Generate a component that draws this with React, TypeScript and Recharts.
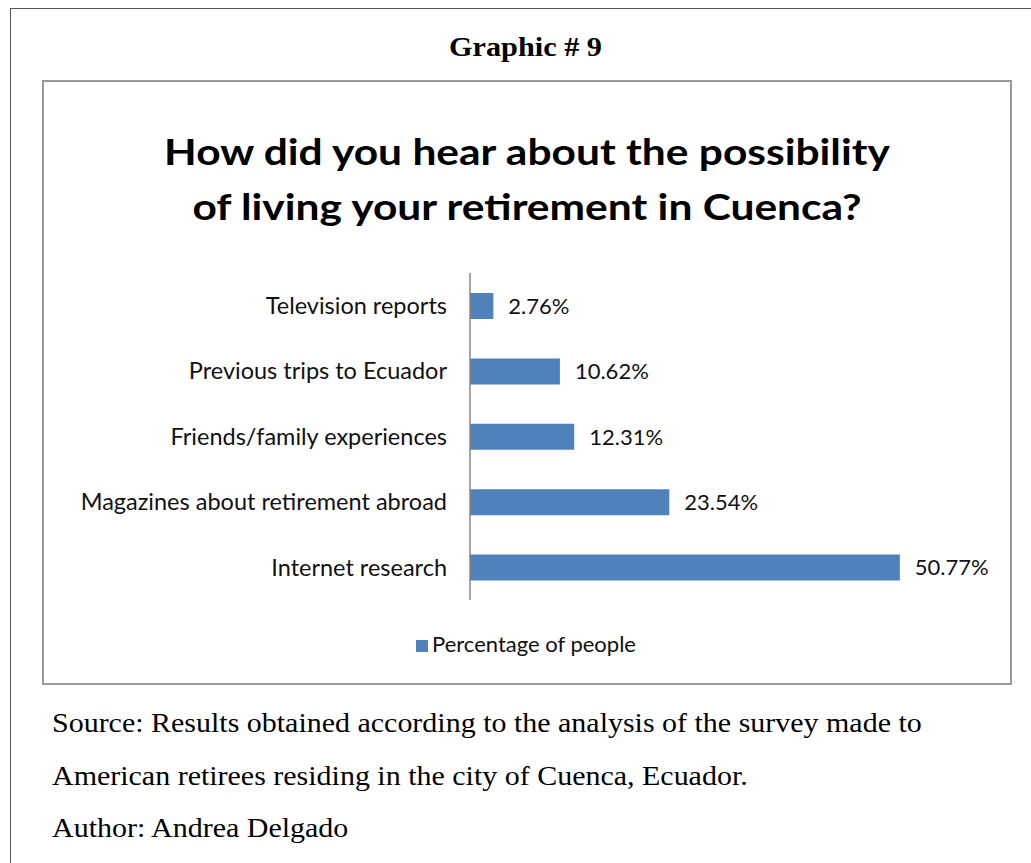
import React from "react";
import { BarChart, Bar, XAxis, YAxis, Legend, LabelList } from "recharts";

const categories = [
  "Television reports",
  "Previous trips to Ecuador",
  "Friends/family experiences",
  "Magazines about retirement abroad",
  "Internet research",
];
const percentages = [2.76, 10.62, 12.31, 23.54, 50.77];

const data = categories.map((name, i) => ({ name, value: percentages[i] }));

const calibri = "Lato, 'Open Sans', sans-serif";
const serif = "'Liberation Serif', 'Times New Roman', serif";

export default function App() {
  return (
    <div style={{ position: "absolute", left: 0, top: 0, width: 1031, height: 863, background: "#fff", overflow: "hidden" }}>
      {/* page frame */}
      <div style={{ position: "absolute", left: 10, top: 8, width: 1040, height: 900, borderLeft: "1px solid #555", borderTop: "1px solid #555" }} />
      <div style={{ position: "absolute", left: 0, width: 1051, top: 31, lineHeight: "32px", textAlign: "center", fontFamily: serif, fontWeight: "bold", fontSize: 28, color: "#000", transform: "scaleX(1.08)" }}>
        Graphic # 9
      </div>

      {/* chart box */}
      <div style={{ position: "absolute", left: 42, top: 80, width: 966, height: 601, border: "2px solid #9a9a9a" }}>
        <div style={{ position: "absolute", left: 0, width: 966, top: 42, textAlign: "center", fontFamily: calibri, fontWeight: "bold", fontSize: 36, lineHeight: "55px", color: "#000", transform: "scaleX(1.18)" }}>
          How did you hear about the possibility
          <br />
          of living your retirement in Cuenca?
        </div>
        <BarChart
          width={966}
          height={601}
          layout="vertical"
          data={data}
          barSize={26}
          margin={{ top: 167, right: 32, bottom: 83, left: 0 }}
          style={{ position: "absolute", left: 0, top: 0 }}
        >
          <XAxis type="number" domain={[0, 60]} hide />
          <YAxis
            type="category"
            dataKey="name"
            width={426}
            tickLine={false}
            axisLine={{ stroke: "#868686", strokeWidth: 1.5 }}
            tick={{ fill: "#111", fontSize: 23.5, fontFamily: calibri }}
            tickMargin={17}
          />
          <Legend
            verticalAlign="top"
            align="center"
            iconType="square"
            iconSize={12}
            wrapperStyle={{ top: 550, left: 4, width: 966, height: 24, lineHeight: "24px", fontFamily: calibri, fontSize: 22 }}
            formatter={(v) => <span style={{ color: "#111" }}>{v}</span>}
          />
          <Bar dataKey="value" name="Percentage of people" fill="#4F81BD" isAnimationActive={false}>
            <LabelList
              dataKey="value"
              position="right"
              offset={15}
              formatter={(v: number) => `${v.toFixed(2)}%`}
              style={{ fill: "#111", fontSize: 22, fontFamily: calibri }}
            />
          </Bar>
        </BarChart>
      </div>

      {/* source lines */}
      <div style={{ position: "absolute", left: 52, top: 697, fontFamily: serif, fontSize: 27, lineHeight: "52.5px", color: "#000", transform: "scaleX(1.11)", transformOrigin: "left top", whiteSpace: "nowrap" }}>
        Source: Results obtained according to the analysis of the survey made to
        <br />
        American retirees residing in the city of Cuenca, Ecuador.
        <br />
        Author: Andrea Delgado
      </div>
    </div>
  );
}
